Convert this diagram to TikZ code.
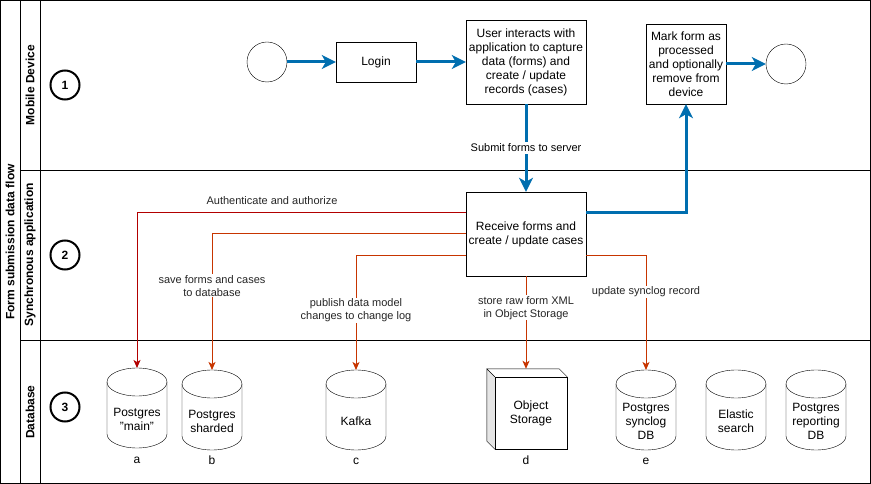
\documentclass[tikz,border=0pt]{standalone}
\usepackage{fontspec}
\setmainfont{Liberation Sans}
\usetikzlibrary{arrows.meta}
\definecolor{flowblue}{HTML}{006EAF}
\definecolor{linkorange}{HTML}{C73500}
\definecolor{linkred}{HTML}{B20000}

\begin{document}
\begin{tikzpicture}[x=1pt, y=-1pt,
  box/.style={draw, fill=white, align=center, inner sep=1pt, font=\fontsize{12}{14}\selectfont},
  event/.style={draw, circle, fill=white, minimum size=40pt, inner sep=0pt},
  lanenum/.style={draw, circle, line width=2pt, minimum size=29pt, inner sep=0pt, font=\bfseries\fontsize{12}{14}\selectfont},
  lanetitle/.style={rotate=90, font=\bfseries\fontsize{12}{14}\selectfont},
  db/.style={minimum width=60pt, minimum height=58pt, inner sep=0pt, outer sep=0pt, align=center, font=\fontsize{12}{14}\selectfont},
  flow/.style={-{Stealth[length=14pt, width=14pt, inset=4pt]}, line width=3pt, flowblue},
  link/.style={-{Stealth[length=8pt, width=7pt, inset=2pt]}, line width=1pt, linkorange},
  lbl/.style={fill=white, inner sep=1pt, align=center, text=black!85, font=\fontsize{11}{13}\selectfont},
  letter/.style={anchor=base, font=\fontsize{12}{14}\selectfont}
]
\useasboundingbox (0,0) rectangle (871,484);

% Pool and lanes
\draw (0.5,0.5) rectangle (870,483);
\draw (20,0.5) -- (20,483);
\draw (40,0.5) -- (40,483);
\draw (20,170) -- (870,170);
\draw (20,340) -- (870,340);
\node[lanetitle] (pool) at (10,242) {Form submission data flow};
\node[lanetitle] (lanemob) at (30,85) {Mobile Device};
\node[lanetitle] (lanesync) at (30,255) {Synchronous application};
\node[lanetitle] (lanedb) at (30,412) {Database};
\node[lanenum] (num1) at (65,85) {1};
\node[lanenum] (num2) at (65,255) {2};
\node[lanenum] (num3) at (65,407) {3};

% Mobile device
\node[event] (start) at (267,62) {};
\node[box, minimum width=80pt, minimum height=40pt] (login) at (376,62) {Login};
\node[box, minimum width=120pt, minimum height=84pt] (user) at (526,62)
  {User interacts with\\application to capture\\data (forms) and\\create / update\\records (cases)};
\node[box, minimum width=80pt, minimum height=80pt] (mark) at (686,64)
  {Mark form as\\processed\\and optionally\\remove from\\device};
\node[event] (stop) at (786,64) {};

% Synchronous application
\node[box, minimum width=120pt, minimum height=84pt] (recv) at (526,234)
  {Receive forms and\\create / update cases};

% Database
\node[db] (pgmain) at (137,419) {Postgres\\"main"};
\node[db] (pgshard) at (212,421) {Postgres\\sharded};
\node[db] (kafka) at (356,421) {Kafka};
\node[db] (pgsync) at (646,421) {Postgres\\synclog\\DB};
\node[db] (elastic) at (736,421) {Elastic\\search};
\node[db] (pgreport) at (816,421) {Postgres\\reporting\\DB};
% cylinder outlines
\foreach \n in {pgmain,pgshard,kafka,pgsync,elastic,pgreport} {
  \draw ([yshift=8pt]\n.north west) -- ([yshift=14pt]\n.south west)
    arc[start angle=180, end angle=360, x radius=30pt, y radius=14pt]
    -- ([yshift=8pt]\n.north east);
  \draw ([yshift=8pt]\n.north) ellipse [x radius=30pt, y radius=14pt];
}
\node[box, minimum width=72pt, minimum height=72pt] (objstore) at (531,413) {Object\\Storage};
\fill[gray!20] (objstore.north west) -- ++(-8,-8) -- ([shift={(-8,-8)}]objstore.south west) -- (objstore.south west) -- cycle;
\draw (objstore.north west) -- ++(-8,-8) -- ([shift={(-8,-8)}]objstore.south west) -- (objstore.south west);
\draw ([shift={(-8,-8)}]objstore.north west) -- ([shift={(-8,-8)}]objstore.north east) -- (objstore.north east);
\coordinate (objtop) at ([shift={(-5,-8)}]objstore.north);
\node[letter] (la) at (137,463) {a};
\node[letter] (lb) at (212,464) {b};
\node[letter] (lc) at (356,464) {c};
\node[letter] (ld) at (526,464) {d};
\node[letter] (le) at (646,464) {e};

% Main flow
\draw[flow] (start) -- (login);
\draw[flow] (login) -- (user);
\draw[flow] (user) -- (recv) node[lbl, midway, text=black, inner sep=2pt] (lblsubmit) {Submit forms to server};
\draw[flow] ([yshift=21pt]recv.east) -| (mark);
\draw[flow] (mark) -- (stop);

% Writes to storage
\draw[link, linkred] ([yshift=21pt]recv.west) -| ([yshift=22pt]pgmain.north);
\node[lbl, fill=none] (lblauth) at (272,201) {Authenticate and authorize};
\draw[link] (recv.west) -| ([yshift=22pt]pgshard.north) node[lbl, pos=0.69] (lblsave) {save forms and cases\\to database};
\draw[link] ([yshift=-21pt]recv.west) -| ([yshift=22pt]kafka.north) node[lbl, pos=0.74] (lblpub) {publish data model\\changes to change log};
\draw[link] (recv.south) -- (recv.south |- objtop) node[lbl, pos=0.34] (lblstore) {store raw form XML\\in Object Storage};
\draw[link] ([yshift=-21pt]recv.east) -| ([yshift=22pt]pgsync.north) node[lbl, pos=0.66] (lblsync) {update synclog record};

\end{tikzpicture}
\end{document}
